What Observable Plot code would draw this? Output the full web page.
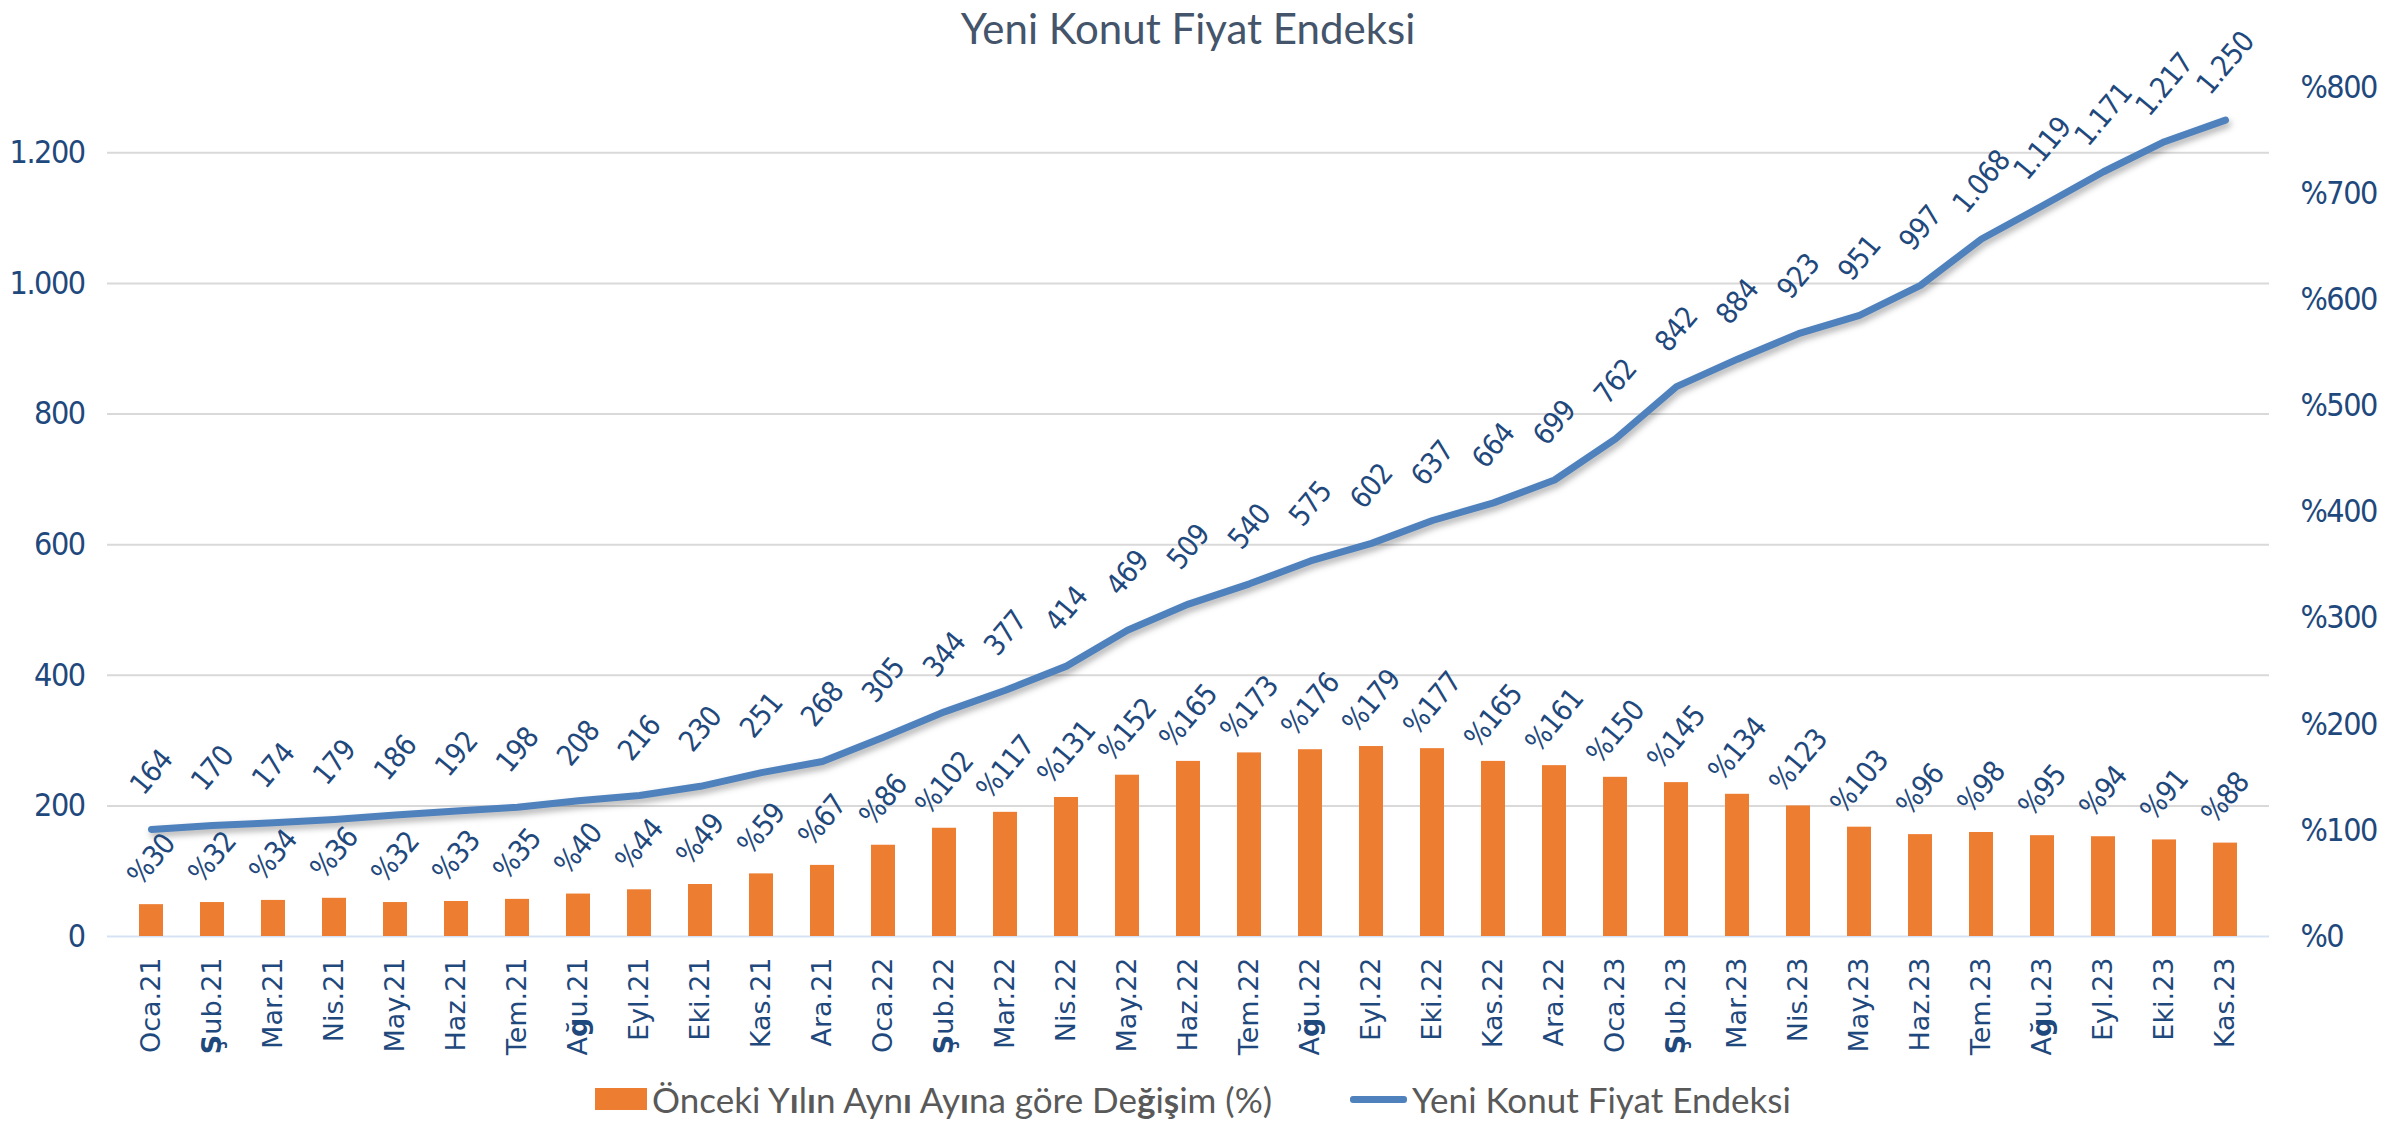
<!DOCTYPE html>
<html>
<head>
<meta charset="utf-8">
<script src="https://cdn.jsdelivr.net/npm/d3@7"></script>
<script src="https://cdn.jsdelivr.net/npm/@observablehq/plot@0.6"></script>
<style>
  html, body { margin: 0; padding: 0; background: #ffffff; }
  #wrap { position: relative; width: 2399px; height: 1122px; overflow: hidden; background: #ffffff; }
  #title { position: absolute; top: 0; left: 0; width: 2376px; text-align: center;
    font-family: Lato, "Open Sans", sans-serif; font-size: 42px; color: #44546a; line-height: 56px; }
  #chart { position: absolute; top: 0; left: 0; }
  #legend { position: absolute; top: 1072px; left: 0; width: 2386px; height: 54px;
    display: flex; justify-content: center; align-items: center; gap: 78px;
    font-family: Lato, "Open Sans", sans-serif; font-size: 35px; color: #595959; }
  .item { display: flex; align-items: center; gap: 5px; white-space: nowrap; }
  .sw-bar { width: 52px; height: 22px; background: #ed7d31; }
  .sw-line { width: 57px; height: 7px; background: #4f81bd; border-radius: 3px; }
  #chart g[aria-label="y-axis tick label"] text { letter-spacing: -1.5px; }
  #chart g[aria-label="text"] text { letter-spacing: -0.8px; }
</style>
</head>
<body>
<div id="wrap">
  <div id="chart"></div>
  <div id="title">Yeni Konut Fiyat Endeksi</div>
  <div id="legend">
    <div class="item"><div class="sw-bar"></div><span>Önceki Y<b>ı</b>l<b>ı</b>n Ayn<b>ı</b> Ay<b>ı</b>na göre De<b>ğ</b>i<b>ş</b>im (%)</span></div>
    <div class="item"><div class="sw-line"></div><span>Yeni Konut Fiyat Endeksi</span></div>
  </div>
</div>
<script>
const months = ["Oca.21","Şub.21","Mar.21","Nis.21","May.21","Haz.21","Tem.21","Ağu.21","Eyl.21","Eki.21","Kas.21","Ara.21",
  "Oca.22","Şub.22","Mar.22","Nis.22","May.22","Haz.22","Tem.22","Ağu.22","Eyl.22","Eki.22","Kas.22","Ara.22",
  "Oca.23","Şub.23","Mar.23","Nis.23","May.23","Haz.23","Tem.23","Ağu.23","Eyl.23","Eki.23","Kas.23"];
const indexValues = [164,170,174,179,186,192,198,208,216,230,251,268,
  305,344,377,414,469,509,540,575,602,637,664,699,
  762,842,884,923,951,997,1068,1119,1171,1217,1250];
const changeValues = [30,32,34,36,32,33,35,40,44,49,59,67,
  86,102,117,131,152,165,173,176,179,177,165,161,
  150,145,134,123,103,96,98,95,94,91,88];
const leftTicks = [0,200,400,600,800,1000,1200];
const rightTicks = [0,100,200,300,400,500,600,700,800];
const leftMax = 1300;
const rightMax = 800;

const K = leftMax / rightMax;
const fmt = d3.formatLocale({decimal: ",", thousands: ".", grouping: [3], currency: ["", ""]}).format(",d");
const data = months.map((m, i) => ({month: m, index: indexValues[i], change: changeValues[i]}));

const NARROW = "'Liberation Sans Narrow', 'DejaVu Sans Condensed', 'Arial Narrow', sans-serif";
const BLUE = "#1f497d";

const chart = Plot.plot({
  width: 2399,
  height: 1070,
  marginTop: 87,
  marginBottom: 134,
  marginLeft: 107,
  marginRight: 130,
  style: {background: "white", color: BLUE, overflow: "visible"},
  x: {type: "band", domain: months, paddingInner: 0.6, paddingOuter: 0.3, label: null},
  y: {domain: [0, leftMax], label: null},
  marks: [
    Plot.gridY(leftTicks.filter(d => d > 0), {stroke: "#d9d9d9", strokeWidth: 2, strokeOpacity: 1}),
    Plot.ruleY([0], {stroke: "#d6e3f4", strokeWidth: 2}),
    Plot.barY(data, {x: "month", y: d => d.change * K, fill: "#ed7d31"}),
    Plot.lineY(data, {x: "month", y: "index", stroke: "#4f81bd", strokeWidth: 7, strokeLinecap: "round", strokeLinejoin: "round"}),
    Plot.text(data, {x: "month", y: "index", text: d => fmt(d.index), dy: -57, rotate: -50,
      fontSize: 29, fontFamily: NARROW, fill: BLUE}),
    Plot.text(data, {x: "month", y: d => d.change * K, text: d => "%" + d.change, dy: -45, rotate: -50,
      fontSize: 29, fontFamily: NARROW, fill: BLUE}),
    Plot.axisY(leftTicks, {anchor: "left", tickSize: 0, tickPadding: 23, tickFormat: fmt,
      fontSize: 32, fontFamily: NARROW, fill: BLUE, label: null}),
    Plot.axisY(rightTicks.map(v => v * K), {anchor: "right", tickSize: 0, tickPadding: 31,
      tickFormat: d => "%" + Math.round(d / K), fontSize: 32, fontFamily: NARROW, fill: BLUE, label: null}),
    Plot.axisX({tickRotate: -90, tickSize: 0, tickPadding: 21, fontSize: 27, fontFamily: "'DejaVu Sans', sans-serif",
      fill: BLUE, label: null})
  ]
});
document.getElementById("chart").appendChild(chart);

// bold glyphs as in the original tick labels
const ns = "http://www.w3.org/2000/svg";
chart.querySelectorAll('g[aria-label="x-axis tick label"] text').forEach(t => {
  const s = t.textContent;
  t.textContent = "";
  for (const part of s.split(/([Şğ])/)) {
    if (!part) continue;
    const ts = document.createElementNS(ns, "tspan");
    if (/[Şğ]/.test(part)) ts.setAttribute("font-weight", "bold");
    ts.textContent = part;
    t.appendChild(ts);
  }
});
const linePath = chart.querySelector('g[aria-label="line"] path');
if (linePath) linePath.style.filter = "drop-shadow(2px 4px 3px rgba(0,0,0,0.3))";
</script>
</body>
</html>
